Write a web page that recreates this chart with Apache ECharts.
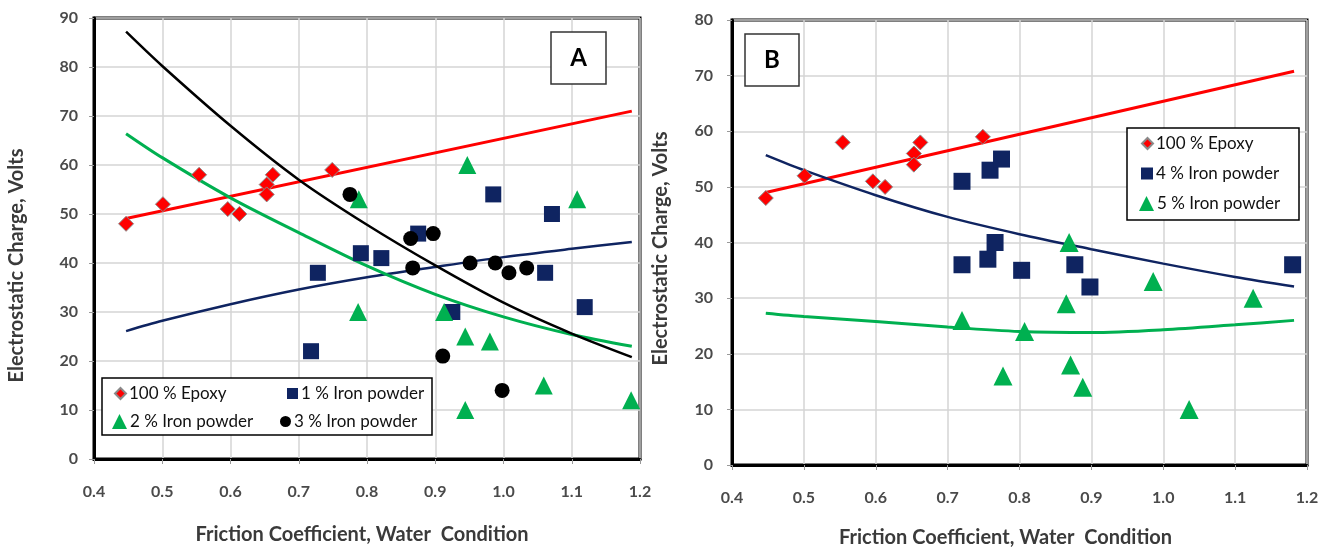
<!DOCTYPE html>
<html>
<head>
<meta charset="utf-8">
<script src="https://cdn.jsdelivr.net/npm/echarts@6/dist/echarts.min.js"></script>
<style>
html,body{margin:0;padding:0;background:#fff}
#chart{width:1332px;height:553px}
</style>
</head>
<body>
<div id="chart"></div>
<script>
// x = friction coefficient, y = charge (V)
const epoxyPts = [[0.447,48],[0.501,52],[0.554,58],[0.596,51],[0.613,50],[0.653,56],[0.653,54],[0.662,58],[0.749,59]]

// panel A
const iron1Pts = [[0.718,22],[0.728,38],[0.791,42],[0.821,41],[0.875,46],[0.925,30],[0.985,54],[1.061,38],[1.071,50],[1.119,31]]
const iron2Pts = [[0.787,30],[0.788,53],[0.913,30],[0.944,25],[0.944,10],[0.947,60],[0.98,24],[1.059,15],[1.108,53],[1.187,12]]
const iron3Pts = [[0.775,54],[0.864,45],[0.867,39],[0.897,46],[0.911,21],[0.951,40],[0.988,40],[0.998,14],[1.008,38],[1.034,39]]
// trend lines
const trendEpoxyA = [[0.447,49.1],[1.188,71]]
const trend1A = [[0.447,26.1],[0.5,28.2],[0.6,31.6],[0.7,34.6],[0.8,37.1],[0.9,39.2],[1.0,41.2],[1.1,42.9],[1.188,44.3]]
const trend2A = [[0.447,66.4],[0.5,61.5],[0.6,53.3],[0.7,46.2],[0.8,39.4],[0.9,33.6],[1.0,29.0],[1.1,25.4],[1.188,23.0]]
const trend3A = [[0.447,87.2],[0.5,80.2],[0.6,68.0],[0.7,57.0],[0.8,47.8],[0.9,39.5],[1.0,31.9],[1.1,25.6],[1.188,20.8]]

// panel B
const iron4Pts = [[0.72,51],[0.72,36],[0.756,37],[0.759,53],[0.766,40],[0.775,55],[0.803,35],[0.877,36],[0.898,32],[1.18,36]]
const iron5Pts = [[0.72,26],[0.777,16],[0.807,24],[0.865,29],[0.869,40],[0.871,18],[0.888,14],[0.986,33],[1.036,10],[1.125,30]]
const trendEpoxyB = [[0.447,49],[1.182,70.8]]
const trend4B = [[0.447,55.7],[0.5,53.0],[0.6,48.5],[0.7,44.6],[0.8,41.5],[0.9,38.8],[1.0,36.2],[1.1,33.8],[1.182,32.1]]
const trend5B = [[0.447,27.3],[0.5,26.7],[0.6,25.8],[0.7,24.8],[0.8,24.0],[0.9,23.8],[1.0,24.3],[1.1,25.2],[1.182,26.0]]

const xTicks = {min:0.4, max:1.2, interval:0.1}

const RED = '#ff0000', NAVY = '#0f2461', GREEN = '#00b050', BLACK = '#000000'
const FONT = 'Lato'

const chart = echarts.init(document.getElementById('chart'))

function xAxisOf(idx, gap, shift){
    return {
        type:'value', gridIndex:idx, min:xTicks.min, max:xTicks.max, interval:xTicks.interval,
        name:'Friction Coefficient, Water  Condition', nameLocation:'middle', nameGap:gap,
        nameTextStyle:{fontFamily:FONT, fontWeight:'bold', fontSize:20, color:'#3a3a3a', padding:[0,shift,0,0]},
        axisLine:{show:true, onZero:false, lineStyle:{color:'#000', width:3}},
        axisTick:{show:true, length:5, lineStyle:{color:'#999'}},
        axisLabel:{margin:25, fontFamily:FONT, fontWeight:'bold', fontSize:16, color:'#4a4a4a',
            formatter:v=>v.toFixed(1)},
        splitLine:{show:true, lineStyle:{color:'#d4d4d4', width:1.5}}
    }
}
function yAxisOf(idx, max, gap, margin, shift){
    return {
        type:'value', gridIndex:idx, min:0, max:max, interval:10,
        name:'Electrostatic Charge, Volts', nameLocation:'middle', nameGap:gap,
        nameTextStyle:{fontFamily:FONT, fontWeight:'bold', fontSize:20, color:'#3a3a3a', padding:[0,shift,0,0]},
        axisLine:{show:true, lineStyle:{color:'#000', width:3}},
        axisTick:{show:true, length:5, lineStyle:{color:'#999'}},
        axisLabel:{margin:margin, fontFamily:FONT, fontWeight:'bold', fontSize:16, color:'#4a4a4a'},
        splitLine:{show:true, lineStyle:{color:'#d4d4d4', width:1.5}}
    }
}
function trend(data, color, idx, width){
    return {type:'line', xAxisIndex:idx, yAxisIndex:idx, data:data, smooth:0.3,
        showSymbol:false, symbol:'none', silent:true, z:2,
        lineStyle:{color:color, width:width}}
}
function dots(name, data, symbol, size, color, idx, border){
    return {type:'scatter', name:name, xAxisIndex:idx, yAxisIndex:idx, data:data,
        symbol:symbol, symbolSize:size, z:3,
        itemStyle:{color:color, borderColor:border || color, borderWidth:border ? 1 : 0, opacity:1}}
}
function legendItem(name, left, top, w, h){
    return {data:[name], left:left, top:top, padding:0, itemWidth:w, itemHeight:h, itemGap:0,
        selectedMode:false, z:20,
        textStyle:{fontFamily:FONT, fontSize:17, color:'#111', padding:[0,0,0,-2]}}
}

const option = {
    backgroundColor:'#fff',
    animation:false,
    grid:[
        {left:94, top:18, width:546, height:441, show:true, borderColor:'#000', borderWidth:3},
        {left:732, top:20, width:575, height:450, show:true, borderColor:'#000', borderWidth:3}
    ],
    xAxis:[xAxisOf(0, 66, 10), xAxisOf(1, 63, 28)],
    yAxis:[yAxisOf(0, 90, 67, 16, 54), yAxisOf(1, 80, 61, 19, 12)],
    legend:[
        legendItem('100 % Epoxy', 114, 385, 11, 11),
        legendItem('1 % Iron powder', 287, 385, 11, 11),
        legendItem('2 % Iron powder', 112, 413, 15, 15),
        legendItem('3 % Iron powder', 280, 413, 11, 11),
        legendItem('100 % Epoxy', 1141, 135, 11, 11),
        legendItem('4 % Iron powder', 1141, 165, 12, 12),
        legendItem('5 % Iron powder', 1139, 195, 15, 15)
    ],
    graphic:[
        {type:'rect', z:5, shape:{x:102, y:378, width:330, height:57},
            style:{fill:'#fff', stroke:'#000', lineWidth:1.5}},
        {type:'rect', z:5, shape:{x:1127, y:128, width:172, height:92},
            style:{fill:'#fff', stroke:'#000', lineWidth:1.5}},
        {type:'rect', z:5, shape:{x:551, y:32, width:55, height:52},
            style:{fill:'#fff', stroke:'#333', lineWidth:1.5}},
        {type:'text', z:6, x:578.5, y:58, style:{text:'A', fontFamily:FONT, fontWeight:'bold', fontSize:24,
            fill:'#000', align:'center', verticalAlign:'middle'}},
        {type:'rect', z:5, shape:{x:745, y:34, width:54, height:52},
            style:{fill:'#fff', stroke:'#333', lineWidth:1.5}},
        {type:'text', z:6, x:772, y:60, style:{text:'B', fontFamily:FONT, fontWeight:'bold', fontSize:24,
            fill:'#000', align:'center', verticalAlign:'middle'}}
    ],
    series:[
        trend(trendEpoxyA, RED, 0, 3),
        trend(trend1A, NAVY, 0, 2.5),
        trend(trend2A, GREEN, 0, 3),
        trend(trend3A, BLACK, 0, 2.5),
        dots('100 % Epoxy', epoxyPts, 'diamond', 15, RED, 0, '#8a8a8a'),
        dots('1 % Iron powder', iron1Pts, 'rect', 16, NAVY, 0),
        dots('2 % Iron powder', iron2Pts, 'triangle', 18, GREEN, 0),
        dots('3 % Iron powder', iron3Pts, 'circle', 15, BLACK, 0),

        trend(trendEpoxyB, RED, 1, 3),
        trend(trend4B, NAVY, 1, 2.5),
        trend(trend5B, GREEN, 1, 3),
        dots('100 % Epoxy', epoxyPts, 'diamond', 15, RED, 1, '#8a8a8a'),
        dots('4 % Iron powder', iron4Pts, 'rect', 17, NAVY, 1),
        dots('5 % Iron powder', iron5Pts, 'triangle', 19, GREEN, 1)
    ]
}
chart.setOption(option)
</script>
</body>
</html>
